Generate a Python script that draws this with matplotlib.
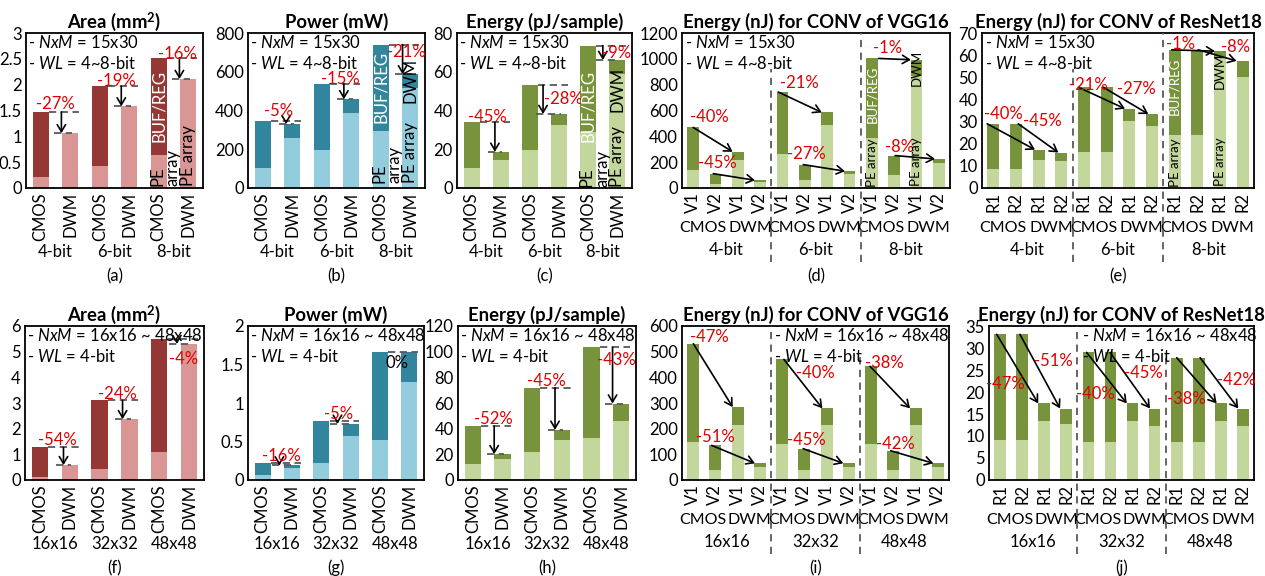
import numpy as np
import matplotlib
matplotlib.use('Agg')
import matplotlib.pyplot as plt
from matplotlib.ticker import FuncFormatter

plt.rcParams['font.family'] = ['Lato', 'DejaVu Sans']
plt.rcParams['mathtext.fontset'] = 'custom'
plt.rcParams['mathtext.rm'] = 'Lato'
plt.rcParams['mathtext.it'] = 'Lato:italic'
plt.rcParams['mathtext.bf'] = 'Lato:bold'

# ---------------- data ----------------
bits = ['4-bit', '6-bit', '8-bit']
sizes = ['16x16', '32x32', '48x48']

# (a) area, 15x30, 4~8 bit
area_cmos = [1.47, 1.97, 2.52]
area_cmos_pe = [0.22, 0.42, 0.63]
area_dwm = [1.06, 1.58, 2.11]
area_pct = ['-27%', '-19%', '-16%']
# (b) power
power_cmos = [348, 539, 740]
power_cmos_pe = [105, 194, 294]
power_dwm = [330, 458, 587]
power_dwm_pe = [259, 386, 517]
power_pct = ['-5%', '-15%', '-21%']
# (c) energy per sample
energy_cmos = [34.0, 53.0, 73.5]
energy_cmos_pe = [10.5, 19.4, 28.8]
energy_dwm = [18.7, 38.2, 66.1]
energy_dwm_pe = [14.2, 32.3, 58.9]
energy_pct = ['-45%', '-28%', '-9%']
# (d) VGG16, per group: CMOS V1, CMOS V2, DWM V1, DWM V2
vgg_bits_tot = [469, 111, 280, 60, 743, 181, 585, 130, 1003, 251, 993, 225]
vgg_bits_pe = [137, 31, 220, 47, 262, 60, 484, 111, 389, 101, 868, 197]
vgg_bits_pct = ['-40%', '-45%', '-21%', '-27%', '-1%', '-8%']
# (e) ResNet18, per group: CMOS R1, CMOS R2, DWM R1, DWM R2
res_bits_tot = [29.0, 29.0, 17.3, 16.0, 45.5, 45.5, 35.8, 33.4, 62.4, 62.4, 61.8, 57.4]
res_bits_pe = [8.5, 8.5, 12.7, 12.1, 16.2, 16.2, 30.2, 28.0, 23.9, 23.9, 59.0, 50.3]
res_bits_pct = ['-40%', '-45%', '-21%', '-27%', '-1%', '-8%']
# (f) area, 16x16~48x48, 4 bit
area2_cmos = [1.27, 3.11, 5.50]
area2_cmos_pe = [0.10, 0.44, 1.08]
area2_dwm = [0.58, 2.37, 5.30]
area2_pct = ['-54%', '-24%', '-4%']
# (g) power
power2_cmos = [0.225, 0.77, 1.66]
power2_cmos_pe = [0.065, 0.225, 0.52]
power2_dwm = [0.19, 0.73, 1.66]
power2_dwm_pe = [0.15, 0.57, 1.27]
power2_pct = ['-16%', '-5%', '0%']
# (h) energy per sample
energy2_cmos = [42.0, 72.0, 103.4]
energy2_cmos_pe = [12.4, 21.5, 32.4]
energy2_dwm = [20.2, 39.1, 59.6]
energy2_dwm_pe = [16.1, 31.1, 46.1]
energy2_pct = ['-52%', '-45%', '-43%']
# (i) VGG16
vgg_size_tot = [531, 135, 284, 65, 470, 122, 279, 65, 443, 114, 279, 65]
vgg_size_pe = [149, 38, 216, 50, 141, 38, 216, 50, 141, 38, 216, 50]
vgg_size_pct = ['-47%', '-51%', '-40%', '-45%', '-38%', '-42%']
# (j) ResNet18
res_size_tot = [33.1, 33.1, 17.4, 16.25, 29.0, 29.0, 17.4, 16.25, 27.8, 27.8, 17.4, 16.25]
res_size_pe = [9.1, 9.1, 13.5, 12.7, 8.7, 8.7, 13.5, 12.3, 8.7, 8.7, 13.5, 12.3]
res_size_pct = ['-47%', '-51%', '-40%', '-45%', '-38%', '-42%']

# ---------------- style ----------------
AREA = ('#953735', '#D99694')
POWER = ('#31859C', '#93CDDD')
ENERGY = ('#77933C', '#C3D69B')
RED = '#E00000'
DASH = '#595959'
FS = 12

W, H = 1265, 576
fig = plt.figure(figsize=(W / 100, H / 100), dpi=100)


def new_ax(l, r, t, b):
    return fig.add_axes([l / W, 1 - b / H, (r - l) / W, (b - t) / H])


def base(ax, title, ymax, step, nbars):
    ax.set_xlim(-0.5, nbars - 0.5)
    ax.set_ylim(0, ymax)
    ax.set_yticks(np.arange(0, ymax + step / 2, step))
    ax.yaxis.set_major_formatter(FuncFormatter(lambda v, p: '%g' % v))
    ax.tick_params(axis='both', length=0, labelsize=FS, pad=3)
    for s in ax.spines.values():
        s.set_linewidth(1.3)
    ax.set_title(title, fontsize=13.3, fontweight='bold', pad=3.5)


def info(ax, lines, x=0.012):
    for n, txt in enumerate(lines):
        ax.annotate(txt, xy=(x, 1), xycoords='axes fraction',
                    xytext=(0, -1 - 21 * n), textcoords='offset pixels',
                    ha='left', va='top', fontsize=FS, zorder=6)


def under(ax, x, text, dy, fs=FS):
    ax.annotate(text, xy=(x, 0), xycoords=('data', 'axes fraction'),
                xytext=(0, -dy), textcoords='offset pixels', ha='center',
                va='center', fontsize=fs, annotation_clip=False)


def arrow(ax, x0, y0, x1, y1):
    ax.annotate('', xy=(x1, y1), xytext=(x0, y0),
                arrowprops=dict(arrowstyle='->,head_length=0.5,head_width=0.3',
                                color='black', lw=1.2, shrinkA=0, shrinkB=0),
                zorder=5)


def bar_label(ax, x, y, txt, color='black', va='center', fs=FS, ha='center'):
    ax.text(x, y, txt, rotation=90, ha=ha, va=va, color=color, fontsize=fs,
            multialignment='left', linespacing=0.95, zorder=6)


def panel_a(ax, cmos, cmos_pe, dwm, dwm_pe, colors, pct, arrow_dx, labs,
            groups, letter):
    dark, light = colors
    w = 0.55
    pc = np.array([0, 2, 4])
    pd = pc + 1
    ax.bar(pc, cmos_pe, w, color=light, lw=0)
    ax.bar(pc, np.subtract(cmos, cmos_pe), w, bottom=cmos_pe, color=dark, lw=0)
    if dwm_pe is None:
        ax.bar(pd, dwm, w, color=light, lw=0)
    else:
        ax.bar(pd, dwm_pe, w, color=light, lw=0)
        ax.bar(pd, np.subtract(dwm, dwm_pe), w, bottom=dwm_pe, color=dark, lw=0)
    for i in range(3):
        x0, top, bot = pc[i], cmos[i], dwm[i]
        ax.plot([x0 + 0.28, x0 + 1.3], [top, top], color=DASH, lw=1.3,
                ls=(0, (4, 2.5)), zorder=4)
        if pct[i] != '0%':
            xa = x0 + arrow_dx[i]
            ax.plot([xa - 0.25, x0 + 1.05], [bot, bot], color=DASH, lw=1.3,
                    ls=(0, (4, 2.5)), zorder=4)
            arrow(ax, xa, top, xa, bot)
        col = 'black' if pct[i] == '0%' else RED
        ax.text(x0 + labs[i][0], labs[i][1], pct[i], color=col, ha='center',
                va='center', fontsize=FS, zorder=6)
    ax.set_xticks(range(6))
    ax.set_xticklabels(['CMOS', 'DWM'] * 3, rotation=90)
    for g in range(3):
        under(ax, 2 * g + 0.5, groups[g], 64)
    under(ax, 2.5, letter, 88)


def panel_b(ax, tot, pe, colors, pct, starts, ends, labs, names, groups,
            letter, sep_top):
    dark, light = colors
    x = np.arange(12)
    ax.bar(x, pe, 0.53, color=light, lw=0)
    ax.bar(x, np.subtract(tot, pe), 0.53, bottom=pe, color=dark, lw=0)
    ax.set_xticks(x)
    ax.set_xticklabels(names * 6, rotation=90)
    for g in range(3):
        under(ax, 4 * g + 0.42, 'CMOS', 40, fs=11.5)
        under(ax, 4 * g + 2.55, 'DWM', 40, fs=11.5)
        under(ax, 4 * g + 1.5, groups[g], 62)
    under(ax, 5.5, letter, 88)
    trans = ax.get_xaxis_transform()
    for k, xs in enumerate([3.5, 7.5]):
        ax.plot([xs, xs], [-74 / 155, sep_top[k]], transform=trans,
                clip_on=False, color=DASH, lw=1.3, ls=(0, (4, 3)), zorder=3)
    for g in range(3):
        for k in range(2):
            j = 2 * g + k
            c = 4 * g + k
            d = 4 * g + 2 + k
            arrow(ax, c + starts[j], tot[c], d + ends[j], tot[d])
            ax.text(c + labs[j][0], labs[j][1], pct[j], color=RED, ha='center',
                    va='center', fontsize=FS, zorder=6)


# ---------------- row 1 ----------------
info1 = ['- $\\mathit{NxM}$ = 15x30', '- $\\mathit{WL}$ = 4~8-bit']
info2 = ['- $\\mathit{NxM}$ = 16x16 ~ 48x48', '- $\\mathit{WL}$ = 4-bit']

ax = new_ax(26, 203, 33, 188)
base(ax, r'Area (mm$^\mathbf{2}$)', 3, 0.5, 6)
panel_a(ax, area_cmos, area_cmos_pe, area_dwm, None, AREA, area_pct,
        [0.7, 0.73, 0.7], [(0.48, 1.62), (0.55, 2.07), (0.62, 2.59)], bits, '(a)')
bar_label(ax, 4, 1.58, 'BUF/REG', color='white')
bar_label(ax, 4.22, 0.03, 'PE\narray', va='bottom')
bar_label(ax, 5, 0.03, 'PE array', va='bottom')
info(ax, info1)

ax = new_ax(248, 425, 33, 188)
base(ax, 'Power (mW)', 800, 200, 6)
panel_a(ax, power_cmos, power_cmos_pe, power_dwm, power_dwm_pe, POWER, power_pct,
        [0.79, 0.75, 0.74], [(0.52, 400), (0.64, 562), (0.86, 700)], bits, '(b)')
bar_label(ax, 4, 520, 'BUF/REG', color='white')
bar_label(ax, 4.22, 25, 'PE\narray', va='bottom')
bar_label(ax, 5, 555, 'DWM')
bar_label(ax, 5, 25, 'PE array', va='bottom')
info(ax, info1)

ax = new_ax(457, 632, 33, 188)
base(ax, 'Energy (pJ/sample)', 80, 20, 6)
panel_a(ax, energy_cmos, energy_cmos_pe, energy_dwm, energy_dwm_pe, ENERGY, energy_pct,
        [0.8, 0.45, 0.5], [(0.54, 36.5), (1.15, 46.0), (0.98, 69.6)], bits, '(c)')
bar_label(ax, 4, 42.5, 'BUF/REG', color='white')
bar_label(ax, 4.22, 0.5, 'PE\narray', va='bottom')
bar_label(ax, 5, 51, 'DWM')
bar_label(ax, 5, 0.5, 'PE array', va='bottom')
info(ax, info1)

ax = new_ax(682, 950, 33, 188)
base(ax, 'Energy (nJ) for CONV of VGG16', 1200, 200, 12)
panel_b(ax, vgg_bits_tot, vgg_bits_pe, ENERGY, vgg_bits_pct,
        [0.0, -0.1, -0.19, -0.07, 0.3, 0.04],
        [-0.23, -0.23, -0.24, -0.2, -0.25, -0.17],
        [(0.72, 547), (0.1, 197), (0.75, 811), (0.08, 267), (0.7, 1083), (0.26, 319)],
        ['V1', 'V2'], bits, '(d)', [0.77, 1.0])
bar_label(ax, 8, 727, 'BUF/REG', color='white', fs=9.5)
bar_label(ax, 8, 8, 'PE array', va='bottom', fs=9.5)
bar_label(ax, 10, 928, 'DWM', fs=9.5)
bar_label(ax, 10, 202, 'PE array', fs=9.5)
info(ax, info1)

ax = new_ax(982, 1254, 33, 188)
base(ax, 'Energy (nJ) for CONV of ResNet18', 70, 10, 12)
panel_b(ax, res_bits_tot, res_bits_pe, ENERGY, res_bits_pct,
        [-0.27, 0.1, -0.25, -0.15, -0.13, 0.04],
        [-0.16, -0.13, -0.19, -0.16, -0.22, -0.27],
        [(0.44, 33.4), (1.16, 30.4), (0.19, 46.3), (1.32, 44.8), (0.27, 65.2), (1.69, 63.7)],
        ['R1', 'R2'], bits, '(e)', [0.77, 1.0])
bar_label(ax, 8, 45.8, 'BUF/REG', color='white', fs=9.5)
bar_label(ax, 8, 0.5, 'PE array', va='bottom', fs=9.5)
bar_label(ax, 10, 53, 'DWM', fs=9.5)
bar_label(ax, 10, 11.8, 'PE array', fs=9.5)
info(ax, info1)

# ---------------- row 2 ----------------
ax = new_ax(25, 204, 326, 480)
base(ax, r'Area (mm$^\mathbf{2}$)', 6, 1, 6)
panel_a(ax, area2_cmos, area2_cmos_pe, area2_dwm, None, AREA, area2_pct,
        [0.79, 0.77, 0.59], [(0.58, 1.56), (0.58, 3.37), (0.8, 4.7)], sizes, '(f)')
info(ax, info2)

ax = new_ax(248, 424, 326, 480)
base(ax, 'Power (mW)', 2, 0.5, 6)
panel_a(ax, power2_cmos, power2_cmos_pe, power2_dwm, power2_dwm_pe, POWER, power2_pct,
        [0.57, 0.55, 0.57], [(0.65, 0.31), (0.58, 0.857), (0.57, 1.52)], sizes, '(g)')
info(ax, info2)

ax = new_ax(458, 636, 326, 480)
base(ax, 'Energy (pJ/sample)', 120, 20, 6)
panel_a(ax, energy2_cmos, energy2_cmos_pe, energy2_dwm, energy2_dwm_pe, ENERGY, energy2_pct,
        [0.72, 0.77, 0.71], [(0.69, 47.4), (0.47, 77.1), (0.85, 93.5)], sizes, '(h)')
info(ax, info2)

ax = new_ax(682, 949, 326, 480)
base(ax, 'Energy (nJ) for CONV of VGG16', 600, 100, 12)
panel_b(ax, vgg_size_tot, vgg_size_pe, ENERGY, vgg_size_pct,
        [0.01, -0.17, 0.08, -0.05, -0.05, -0.12],
        [-0.22, -0.22, -0.19, -0.25, -0.25, -0.2],
        [(0.71, 557), (-0.02, 168), (1.48, 416), (0.1, 155), (0.6, 455), (0.07, 142)],
        ['V1', 'V2'], sizes, '(i)', [1.0, 0.8])
info(ax, info2, x=0.345)

ax = new_ax(989, 1254, 326, 480)
base(ax, 'Energy (nJ) for CONV of ResNet18', 35, 5, 12)
panel_b(ax, res_size_tot, res_size_pe, ENERGY, res_size_pct,
        [-0.15, -0.1, -0.08, -0.02, 0.0, 0.06],
        [-0.27, -0.28, -0.26, -0.21, -0.19, -0.21],
        [(0.26, 21.8), (1.43, 27.0), (0.33, 19.5), (1.49, 24.3), (0.45, 18.5), (1.69, 22.7)],
        ['R1', 'R2'], sizes, '(j)', [1.0, 0.79])
info(ax, info2, x=0.35)

fig.savefig('out.png', dpi=100)
